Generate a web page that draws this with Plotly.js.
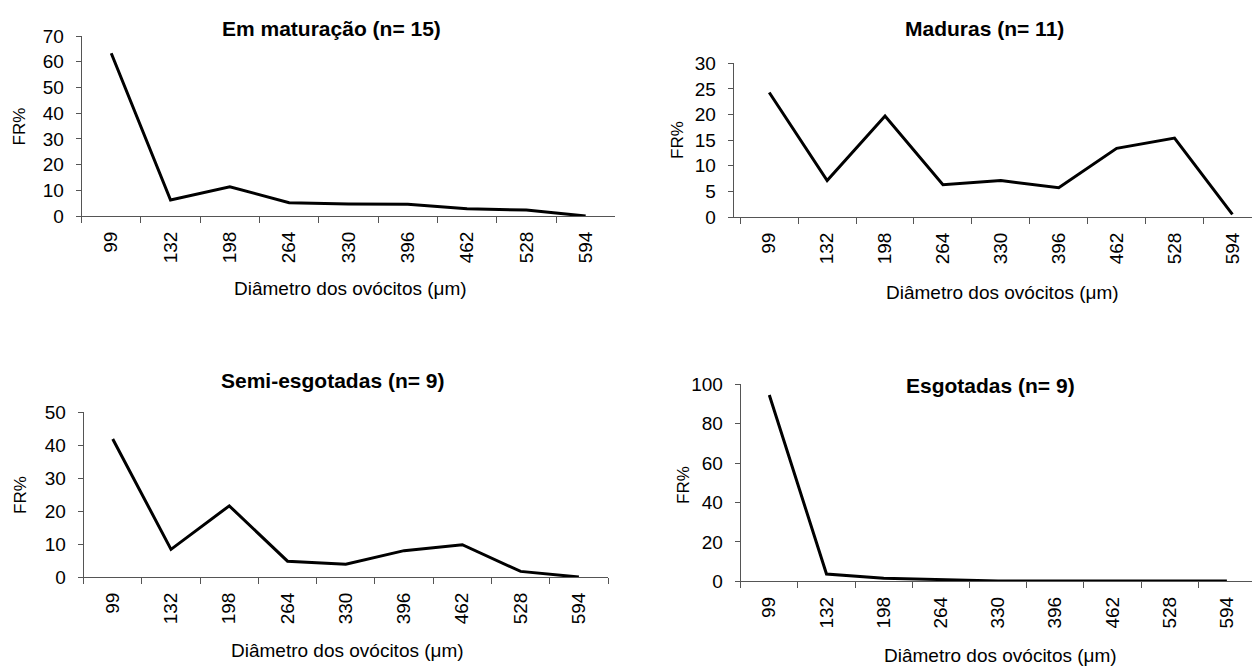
<!DOCTYPE html>
<html>
<head>
<meta charset="utf-8">
<script src="https://cdn.plot.ly/plotly-3.0.1.min.js"></script>
<style>
html,body{margin:0;padding:0;background:#fff;}
#chart{width:1252px;height:666px;}
</style>
</head>
<body>
<div id="chart"></div>
<script>
// Categories: oocyte diameter classes (µm)
const diametros = ["99", "132", "198", "264", "330", "396", "462", "528", "594"];

// FR% per maturation stage
const emMaturacao   = [63.3, 6.2, 11.4, 5.2, 4.7, 4.6, 2.8, 2.3, 0.0];
const maduras       = [24.3, 7.1, 19.7, 6.3, 7.1, 5.7, 13.4, 15.4, 0.5];
const semiEsgotadas = [41.9, 8.4, 21.6, 4.8, 3.9, 8.0, 9.8, 1.7, 0.0];
const esgotadas     = [94.6, 3.7, 1.5, 0.7, 0.2, 0.1, 0.1, 0.1, 0.1];

const titulos = ["Em maturação (n= 15)", "Maduras (n= 11)", "Semi-esgotadas (n= 9)", "Esgotadas (n= 9)"];
const tituloX = "Diâmetro dos ovócitos (\u03bcm)";
const tituloY = "FR%";

const W = 1252, H = 666;
const FONT = "Liberation Sans, Arial, sans-serif";
const px = x => x / W;
const py = y => 1 - y / H;

const series = [emMaturacao, maduras, semiEsgotadas, esgotadas];
const traces = series.map((s, i) => ({
  type: "scatter",
  mode: "lines",
  x: diametros,
  y: s,
  xaxis: i === 0 ? "x" : "x" + (i + 1),
  yaxis: i === 0 ? "y" : "y" + (i + 1),
  line: {color: "#000", width: 3},
  showlegend: false,
  hoverinfo: "x+y"
}));

function xa(domain, range, anchor) {
  return {
    domain: domain, range: range, anchor: anchor,
    type: "category", tickson: "boundaries",
    showline: true, linecolor: "#555", linewidth: 1,
    ticks: "outside", ticklen: 6, tickcolor: "#555", tickwidth: 1,
    tickangle: -90, ticklabelstandoff: 7,
    tickfont: {family: FONT, size: 19, color: "#000"},
    showgrid: false, zeroline: false, fixedrange: true
  };
}
function ya(domain, range, dtick, anchor) {
  return {
    domain: domain, range: range, anchor: anchor,
    dtick: dtick, tick0: 0,
    showline: true, linecolor: "#555", linewidth: 1,
    ticks: "outside", ticklen: 5, tickcolor: "#555", tickwidth: 1,
    ticklabelstandoff: 8,
    tickfont: {family: FONT, size: 19, color: "#000"},
    showgrid: false, zeroline: false, fixedrange: true
  };
}

const ann = [];
function addText(text, x, y, size, bold, angle) {
  ann.push({
    text: bold ? "<b>" + text + "</b>" : text,
    xref: "paper", yref: "paper", x: px(x), y: py(y),
    xanchor: "center", yanchor: "middle", showarrow: false,
    textangle: angle || 0,
    font: {family: FONT, size: size, color: "#000"}
  });
}
// panel titles
addText(titulos[0], 331, 29, 21, true);
addText(titulos[1], 984, 29, 21, true);
addText(titulos[2], 332, 380, 21, true);
addText(titulos[3], 990, 385, 21, true);
// x titles
addText(tituloX, 350, 289, 19, false);
addText(tituloX, 1002, 292, 19, false);
addText(tituloX, 347, 650, 19, false);
addText(tituloX, 1000, 655, 19, false);
// y titles
addText(tituloY, 19, 126.5, 17, false, -90);
addText(tituloY, 677, 140, 17, false, -90);
addText(tituloY, 20, 495, 17, false, -90);
addText(tituloY, 683, 485, 17, false, -90);

const layout = {
  width: W, height: H,
  margin: {l: 0, r: 0, t: 0, b: 0, pad: 0},
  paper_bgcolor: "#fff", plot_bgcolor: "#fff",
  showlegend: false,
  xaxis:  xa([px(81.6), px(615.3)], [-0.5, 8.5], "y"),
  yaxis:  ya([py(216), py(36)], [0, 70], 10, "x"),
  xaxis2: xa([px(733.7), 1], [-0.614, 8.338], "y2"),
  yaxis2: ya([py(217), py(63.3)], [0, 30], 5, "x2"),
  xaxis3: xa([px(83.6), px(608)], [-0.5, 8.5], "y3"),
  yaxis3: ya([py(577), py(412.3)], [0, 50], 10, "x3"),
  xaxis4: xa([px(740.7), 1], [-0.5, 8.439], "y4"),
  yaxis4: ya([py(581.3), py(384.3)], [0, 100], 20, "x4"),
  annotations: ann
};

Plotly.newPlot("chart", traces, layout, {displayModeBar: false, staticPlot: true});
</script>
</body>
</html>
